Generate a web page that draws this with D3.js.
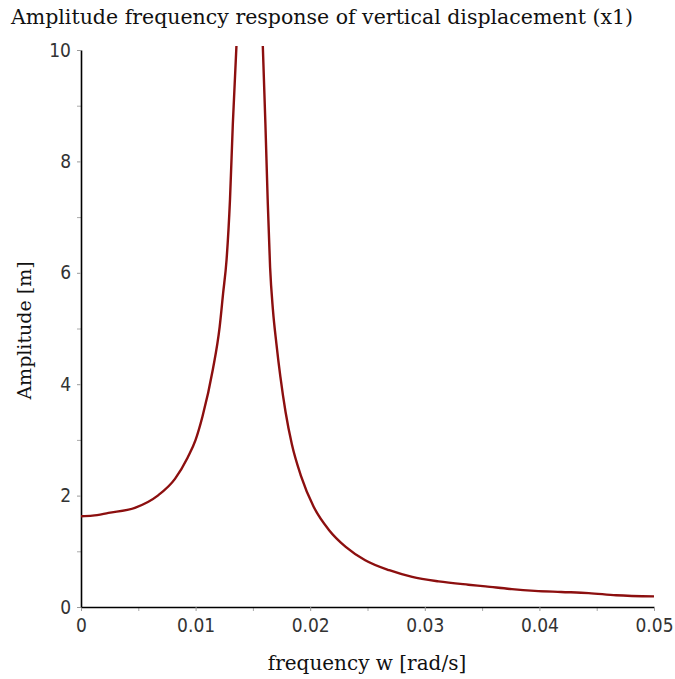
<!DOCTYPE html>
<html>
<head>
<meta charset="utf-8">
<script src="https://cdn.jsdelivr.net/npm/d3@7"></script>
<style>
  body { margin: 0; background: #fff; }
  svg { display: block; }
</style>
</head>
<body>
<div id="chart"></div>
<script>
// frequency response (x1, vertical displacement)
var freq = [0, 0.001, 0.0024, 0.0047, 0.0067, 0.0082, 0.0093, 0.0100, 0.0106, 0.0115,
            0.0121, 0.0124, 0.0127, 0.0130, 0.01325, 0.01357,
            0.0147,
            0.01586, 0.01609, 0.01629, 0.0165, 0.01675, 0.01705, 0.0174, 0.01785, 0.0184,
            0.0192, 0.0203, 0.02165, 0.0231, 0.0248, 0.0269, 0.0289, 0.0312, 0.0338,
            0.0353, 0.0376, 0.0396, 0.0419, 0.0443, 0.0467, 0.0500];
var amp  = [1.63, 1.64, 1.69, 1.78, 2.00, 2.30, 2.68, 3.00, 3.42, 4.26,
            5.03, 5.63, 6.23, 7.31, 8.68, 10.1,
            null,   // resonance, off the scale
            10.1, 8.68, 7.31, 6.1, 5.33, 4.73, 4.13, 3.50, 2.92,
            2.35, 1.80, 1.38, 1.08, 0.84, 0.66, 0.54, 0.46, 0.40,
            0.37, 0.32, 0.29, 0.27, 0.25, 0.21, 0.19];

var xTicks = [0, 0.01, 0.02, 0.03, 0.04, 0.05];
var xTickLabels = ["0", "0.01", "0.02", "0.03", "0.04", "0.05"];
var xMinor = [0.005, 0.015, 0.025, 0.035, 0.045];
var yTicks = [0, 2, 4, 6, 8, 10];
var yMinor = [1, 3, 5, 7, 9];

var title = "Amplitude frequency response of vertical displacement (x1)";
var xTitle = "frequency w [rad/s]";
var yTitle = "Amplitude [m]";

var W = 675, H = 679;
var margin = {top: 50, right: 21, bottom: 72, left: 81};
var width = W - margin.left - margin.right,
    height = H - margin.top - margin.bottom;

var data = freq.map(function(f, i) { return {f: f, a: amp[i]}; });

var svg = d3.select("#chart").append("svg")
    .attr("width", W)
    .attr("height", H);

var x = d3.scaleLinear().domain([0, 0.05]).range([0, width]);
var y = d3.scaleLinear().domain([0, 10]).range([height, 0]);

var g = svg.append("g")
    .attr("transform", "translate(" + margin.left + "," + margin.top + ")");

// clip the curve a little above the top of the axis
g.append("clipPath").attr("id", "clip")
  .append("rect")
    .attr("x", 0).attr("y", -4)
    .attr("width", width + 2).attr("height", height + 4);

var tickFont = "'Liberation Sans Narrow', 'DejaVu Sans Condensed', sans-serif";

// minor ticks
g.append("g")
    .attr("transform", "translate(0," + height + ")")
    .call(d3.axisBottom(x).tickValues(xMinor).tickSize(4).tickFormat(""))
    .call(function(s) { s.select(".domain").remove(); s.selectAll("line").attr("stroke", "#aaa"); });
g.append("g")
    .call(d3.axisLeft(y).tickValues(yMinor).tickSize(4).tickFormat(""))
    .call(function(s) { s.select(".domain").remove(); s.selectAll("line").attr("stroke", "#aaa"); });

// major axes
var xAxis = g.append("g")
    .attr("transform", "translate(0," + height + ")")
    .call(d3.axisBottom(x).tickValues(xTicks).tickSize(4).tickSizeOuter(0).tickPadding(8)
          .tickFormat(function(d, i) { return xTickLabels[i]; }));
var yAxis = g.append("g")
    .call(d3.axisLeft(y).tickValues(yTicks).tickSize(4).tickSizeOuter(0).tickPadding(6)
          .tickFormat(d3.format("d")));

[xAxis, yAxis].forEach(function(a) {
  a.select(".domain").attr("stroke", "#000").attr("stroke-width", 1.6);
  a.selectAll(".tick line").attr("stroke", "#999");
  a.selectAll(".tick text")
    .attr("fill", "#333")
    .style("font-family", tickFont)
    .style("font-size", "19px");
});

// the response curve
g.append("path")
    .datum(data)
    .attr("clip-path", "url(#clip)")
    .attr("fill", "none")
    .attr("stroke", "#8c0f0f")
    .attr("stroke-width", 2.4)
    .attr("stroke-linejoin", "round")
    .attr("d", d3.line()
      .defined(function(d) { return d.a !== null; })
      .curve(d3.curveMonotoneX)
      .x(function(d) { return x(d.f); })
      .y(function(d) { return y(d.a); }));

var serif = "'DejaVu Serif', 'Liberation Serif', serif";

svg.append("text")
    .attr("x", 322).attr("y", 24)
    .attr("text-anchor", "middle")
    .style("font-family", serif)
    .style("font-size", "20.5px")
    .attr("fill", "#111")
    .text(title);

svg.append("text")
    .attr("x", 367).attr("y", 670)
    .attr("text-anchor", "middle")
    .style("font-family", serif)
    .style("font-size", "20px")
    .attr("fill", "#111")
    .text(xTitle);

svg.append("text")
    .attr("transform", "translate(31," + (margin.top + height / 2 + 2) + ") rotate(-90)")
    .attr("text-anchor", "middle")
    .style("font-family", serif)
    .style("font-size", "19px")
    .attr("fill", "#111")
    .text(yTitle);
</script>
</body>
</html>
